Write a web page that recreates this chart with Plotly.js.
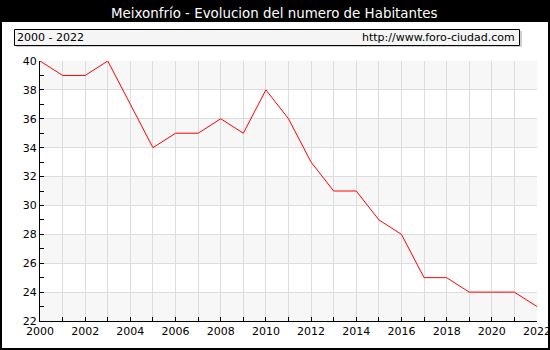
<!DOCTYPE html>
<html><head><meta charset="utf-8">
<script src="https://cdn.plot.ly/plotly-3.0.1.min.js"></script>
<style>html,body{margin:0;padding:0;background:#fff;}#c{width:550px;height:350px;}</style>
</head><body><div id="c"></div>
<script>
const years = [2000,2001,2002,2003,2004,2005,2006,2007,2008,2009,2010,2011,2012,2013,2014,2015,2016,2017,2018,2019,2020,2021,2022];
const habitantes = [40,39,39,40,37,34,35,35,36,35,38,36,33,31,31,29,28,25,25,24,24,24,23];
const titleText = 'Meixonfrío - Evolucion del numero de Habitantes';
const periodText = '2000 - 2022';
const sourceText = 'http://www.foro-ciudad.com';
const shadedBands = [[22,24],[26,28],[30,32],[34,36],[38,40]];

const W=550,H=350,L=40,R=13,T=61,B=29;
const pw=W-L-R, ph=H-T-B;
const px = x => (x-L)/pw;
const py = y => (H-B-y)/ph;

const shapes = [];
shadedBands.forEach(b=>shapes.push({type:'rect',xref:'paper',yref:'y',x0:0,x1:1,y0:b[0],y1:b[1],fillcolor:'#f7f7f7',line:{width:0},layer:'below'}));
shapes.push({type:'rect',xref:'paper',yref:'paper',x0:px(0),x1:px(550),y0:py(22),y1:py(0),fillcolor:'#000',line:{width:0}});
shapes.push({type:'rect',xref:'paper',yref:'paper',x0:px(1),x1:px(549),y0:py(349),y1:py(1),fillcolor:'rgba(0,0,0,0)',line:{color:'#000',width:2}});
shapes.push({type:'rect',xref:'paper',yref:'paper',x0:px(16),x1:px(522),y0:py(47),y1:py(31),fillcolor:'#d0d0d0',line:{width:0}});
shapes.push({type:'rect',xref:'paper',yref:'paper',x0:px(14.5),x1:px(519.5),y0:py(45.5),y1:py(29.5),fillcolor:'#f5f5f5',line:{color:'#000',width:1}});

const annotations = [
 {xref:'paper',yref:'paper',x:px(274),y:py(13),text:titleText,showarrow:false,xanchor:'center',yanchor:'middle',font:{family:'DejaVu Sans',size:13.4,color:'#fff'}},
 {xref:'paper',yref:'paper',x:px(15),y:py(37),text:periodText,showarrow:false,xanchor:'left',yanchor:'middle',font:{family:'DejaVu Sans',size:11,color:'#000'}},
 {xref:'paper',yref:'paper',x:px(517),y:py(37),text:sourceText,showarrow:false,xanchor:'right',yanchor:'middle',font:{family:'DejaVu Sans',size:11,color:'#000'}}
];

Plotly.newPlot('c',[{x:years,y:habitantes,type:'scatter',mode:'lines',line:{color:'#ff0000',width:1},hoverinfo:'skip'}],{
 width:W,height:H,margin:{l:L,r:R,t:T,b:B,pad:0},
 paper_bgcolor:'#fff',plot_bgcolor:'rgba(0,0,0,0)',showlegend:false,
 font:{family:'DejaVu Sans',size:11,color:'#000'},
 xaxis:{range:[2000,2022],dtick:2,tick0:2000,showgrid:true,gridcolor:'#dddddd',gridwidth:1,zeroline:false,
   showline:true,linecolor:'#000',linewidth:1,ticks:'inside',ticklen:4,tickcolor:'#000',ticklabeloverflow:'allow',
   minor:{dtick:1,tick0:2000,ticks:'inside',ticklen:4,tickcolor:'#000',showgrid:true,gridcolor:'#dddddd'},
   tickfont:{family:'DejaVu Sans',size:11}},
 yaxis:{range:[22,40],dtick:2,tick0:22,showgrid:true,gridcolor:'#dddddd',gridwidth:1,zeroline:false,
   showline:true,linecolor:'#000',linewidth:1,ticks:'inside',ticklen:4,tickcolor:'#000',ticklabeloverflow:'allow',
   minor:{dtick:1,tick0:22,ticks:'inside',ticklen:4,tickcolor:'#000',showgrid:false},
   tickfont:{family:'DejaVu Sans',size:11}},
 shapes:shapes,annotations:annotations
},{displayModeBar:false,staticPlot:true});
</script></body></html>
